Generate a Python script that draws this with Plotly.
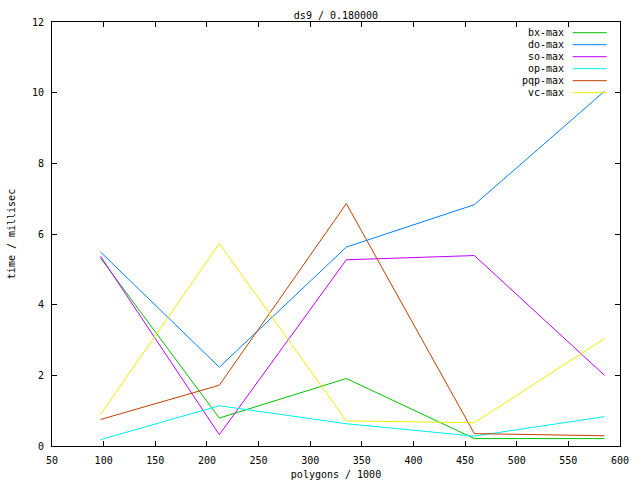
import plotly.graph_objects as go

x_vals = [97, 212, 335, 459, 585]
bx_max = [5.32, 0.79, 1.91, 0.21, 0.21]
do_max = [5.49, 2.23, 5.63, 6.83, 10.04]
so_max = [5.37, 0.32, 5.27, 5.39, 2.0]
op_max = [0.18, 1.14, 0.63, 0.28, 0.83]
pqp_max = [0.75, 1.72, 6.86, 0.35, 0.29]
vc_max = [0.89, 5.73, 0.71, 0.66, 3.04]

series_names = ["bx-max", "do-max", "so-max", "op-max", "pqp-max", "vc-max"]
series_values = [bx_max, do_max, so_max, op_max, pqp_max, vc_max]
colors = ["#00c000", "#0080ff", "#c000ff", "#00eeee", "#c04000", "#eeee00"]

title_text = "ds9 / 0.180000"
x_title = "polygons / 1000"
y_title = "time / millisec"

FONT = "DejaVu Sans Mono"
W, H = 640, 480
ML, MR, MT, MB = 52, 20, 22, 34

fig = go.Figure()
for name, vals, c in zip(series_names, series_values, colors):
    fig.add_trace(go.Scatter(x=x_vals, y=vals, mode="lines", name=name,
                             line=dict(color=c, width=1), showlegend=False))

# manual gnuplot-style legend (text right, sample line to the right)
pw = W - ML - MR
ph = H - MT - MB
for i, (name, c) in enumerate(zip(series_names, colors)):
    ypx = 32.7 + 12 * i
    yp = 1 - (ypx - MT) / ph
    xt = (566 - ML) / pw
    fig.add_annotation(x=xt, y=yp, xref="paper", yref="paper", text=name,
                       showarrow=False, xanchor="right", yanchor="middle",
                       font=dict(family=FONT, size=10, color="black"))
    fig.add_shape(type="line", xref="paper", yref="paper",
                  x0=(572.7 - ML) / pw, x1=(606.7 - ML) / pw, y0=yp, y1=yp,
                  line=dict(color=c, width=1))

axis_common = dict(showgrid=False, zeroline=False, showline=True, mirror="ticks",
                   linecolor="black", linewidth=1, ticks="inside", ticklen=5,
                   tickcolor="black", automargin=False,
                   tickfont=dict(family=FONT, size=10, color="black"))

fig.update_layout(
    width=W, height=H,
    margin=dict(l=ML, r=MR, t=MT, b=MB, autoexpand=False),
    paper_bgcolor="white", plot_bgcolor="white",
    title=dict(text=title_text, x=(ML + pw / 2) / W, xanchor="center",
               y=1 - 15 / H, yanchor="middle", automargin=False,
               font=dict(family=FONT, size=10, color="black")),
    xaxis=dict(range=[50, 600], dtick=50, tick0=50,
               ticklabelstandoff=5,
               title=dict(text=x_title, font=dict(family=FONT, size=10, color="black"), standoff=6),
               **axis_common),
    yaxis=dict(range=[0, 12], dtick=2, tick0=0,
               ticklabelstandoff=5,
               title=dict(text=y_title, font=dict(family=FONT, size=10, color="black"), standoff=14),
               **axis_common),
    showlegend=False,
    hovermode=False,
)

fig.write_html("out.html",
               config={"displayModeBar": False, "staticPlot": True},
               post_script="document.body.style.margin='0';document.body.style.padding='0';")
